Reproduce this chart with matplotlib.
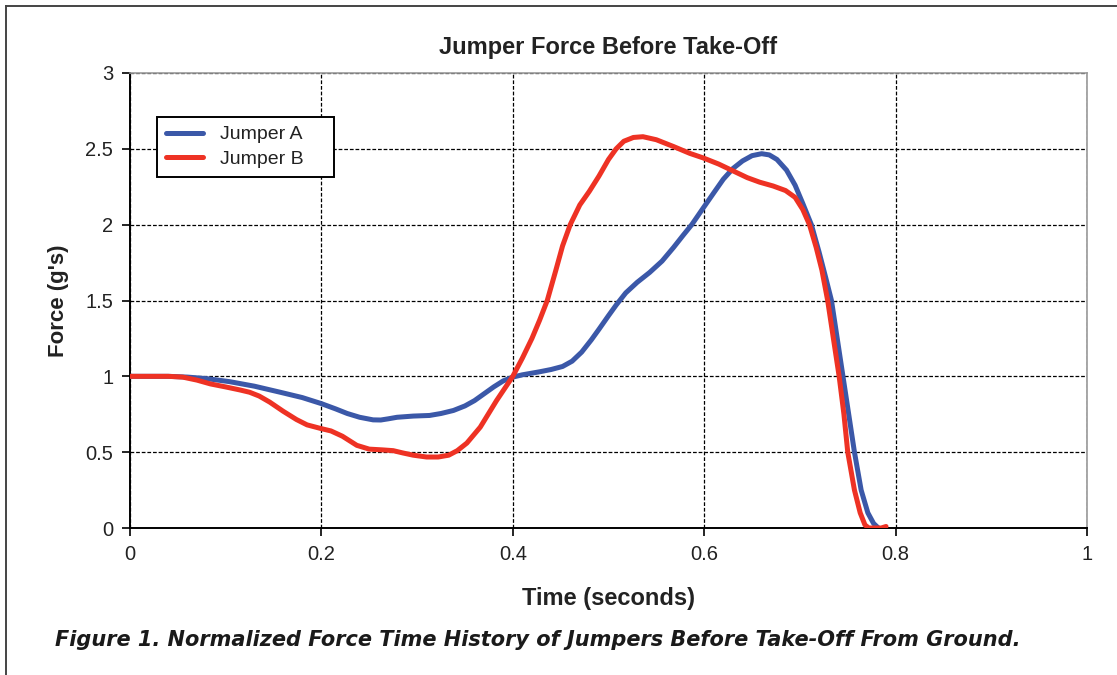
import matplotlib
matplotlib.use("Agg")
import matplotlib.pyplot as plt
from matplotlib.lines import Line2D

# ---- data ----
time_a = [0.00, 0.04, 0.06, 0.08, 0.104, 0.13, 0.157, 0.18, 0.20, 0.215, 0.227, 0.24,
          0.254, 0.262, 0.27, 0.279, 0.296, 0.313, 0.325, 0.338, 0.35, 0.36, 0.37, 0.38,
          0.39, 0.40, 0.41, 0.428, 0.44, 0.452, 0.462, 0.472, 0.482, 0.49, 0.50, 0.508,
          0.518, 0.53, 0.543, 0.556, 0.568, 0.578, 0.587, 0.599, 0.61, 0.62, 0.63, 0.64,
          0.65, 0.66, 0.668, 0.676, 0.686, 0.695, 0.703, 0.712, 0.72, 0.727, 0.733, 0.739,
          0.745, 0.751, 0.757, 0.764, 0.771, 0.777, 0.782]
force_a = [1.00, 1.00, 0.995, 0.985, 0.965, 0.935, 0.895, 0.86, 0.82, 0.785, 0.755, 0.73,
           0.713, 0.712, 0.72, 0.73, 0.738, 0.742, 0.755, 0.775, 0.805, 0.84, 0.885, 0.93,
           0.97, 0.995, 1.01, 1.03, 1.045, 1.065, 1.10, 1.16, 1.24, 1.31, 1.40, 1.47,
           1.55, 1.62, 1.685, 1.76, 1.85, 1.93, 2.00, 2.11, 2.21, 2.30, 2.37, 2.42,
           2.455, 2.468, 2.46, 2.43, 2.36, 2.26, 2.14, 2.00, 1.82, 1.65, 1.50, 1.25,
           1.00, 0.75, 0.50, 0.25, 0.10, 0.03, 0.00]

time_b = [0.00, 0.04, 0.055, 0.07, 0.084, 0.10, 0.115, 0.125, 0.135, 0.146, 0.16, 0.174,
          0.185, 0.20, 0.21, 0.222, 0.237, 0.25, 0.264, 0.275, 0.285, 0.296, 0.31, 0.322,
          0.333, 0.342, 0.352, 0.366, 0.383, 0.40, 0.41, 0.42, 0.428, 0.436, 0.445, 0.452,
          0.46, 0.47, 0.48, 0.49, 0.50, 0.508, 0.516, 0.526, 0.536, 0.55, 0.568, 0.585,
          0.599, 0.615, 0.63, 0.645, 0.658, 0.672, 0.685, 0.695, 0.703, 0.71, 0.717, 0.723,
          0.729, 0.735, 0.741, 0.746, 0.750, 0.757, 0.763, 0.768, 0.772, 0.785, 0.79]
force_b = [1.00, 1.00, 0.995, 0.975, 0.95, 0.93, 0.91, 0.895, 0.87, 0.83, 0.77, 0.715,
           0.68, 0.655, 0.64, 0.605, 0.545, 0.52, 0.515, 0.51, 0.495, 0.48, 0.468, 0.468,
           0.48, 0.51, 0.56, 0.665, 0.84, 1.00, 1.12, 1.25, 1.37, 1.50, 1.70, 1.86,
           2.00, 2.13, 2.22, 2.32, 2.43, 2.50, 2.55, 2.575, 2.58, 2.56, 2.515, 2.47,
           2.44, 2.40, 2.355, 2.31, 2.28, 2.255, 2.225, 2.18, 2.10, 2.00, 1.85, 1.70,
           1.50, 1.25, 1.00, 0.75, 0.50, 0.25, 0.10, 0.02, 0.00, 0.00, 0.01]

x_ticks = [0, 0.2, 0.4, 0.6, 0.8, 1]
x_tick_labels = ["0", "0.2", "0.4", "0.6", "0.8", "1"]
y_ticks = [0, 0.5, 1, 1.5, 2, 2.5, 3]
y_tick_labels = ["0", "0.5", "1", "1.5", "2", "2.5", "3"]

series_names = ["Jumper A", "Jumper B"]
series_colors = ["#3b58a8", "#ee3224"]

plt.rcParams['font.family'] = ['Liberation Sans', 'DejaVu Sans']

fig = plt.figure(figsize=(11.17, 6.75), dpi=100)
ax = fig.add_axes([130/1117, 147/675, 957/1117, 455/675])

ax.plot(time_a, force_a, color=series_colors[0], lw=3.6, solid_joinstyle='round',
        solid_capstyle='round', label=series_names[0], zorder=3)
ax.plot(time_b, force_b, color=series_colors[1], lw=3.6, solid_joinstyle='round',
        solid_capstyle='round', label=series_names[1], zorder=4)

ax.set_xlim(0, 1)
ax.set_ylim(0, 3)
ax.set_xticks(x_ticks)
ax.set_xticklabels(x_tick_labels)
ax.set_yticks(y_ticks)
ax.set_yticklabels(y_tick_labels)
ax.tick_params(axis='both', labelsize=14.5, color='black', length=6, width=1.2,
               direction='out', pad=6, labelcolor='#222222')
ax.grid(True, color='black', linestyle=(0, (3, 1.5)), linewidth=0.9, zorder=1)

for s in ['top', 'right']:
    ax.spines[s].set_color('#999999')
    ax.spines[s].set_linewidth(1.2)
for s in ['left', 'bottom']:
    ax.spines[s].set_color('black')
    ax.spines[s].set_linewidth(1.4)

ax.set_title("Jumper Force Before Take-Off", fontsize=17, fontweight='bold',
             color='#222222', pad=14)
ax.set_xlabel("Time (seconds)", fontsize=17, fontweight='bold', color='#222222', labelpad=17)
ax.set_ylabel("Force (g's)", fontsize=16, fontweight='bold', color='#222222', labelpad=12)

handles = [Line2D([0], [0], color=c, lw=3.6, solid_capstyle='round') for c in series_colors]
leg = ax.legend(handles, series_names, loc='upper left',
                bbox_to_anchor=(27/957, 0.5, 177/957, 1 - 44/455 - 0.5), mode='expand',
                fontsize=14, frameon=True, fancybox=False, framealpha=1, edgecolor='black',
                handlelength=1.9, handletextpad=0.9, borderpad=0.45, labelspacing=0.35,
                borderaxespad=0)
leg.get_frame().set_linewidth(1.4)
for t in leg.get_texts():
    t.set_color('#222222')

# caption
fig.text(55/1117, 1 - 640/675, "Figure 1. Normalized Force Time History of Jumpers Before Take-Off From Ground.",
         fontsize=15, fontweight='bold', style='italic', color='#1a1a1a', va='center', ha='left',
         family=['DejaVu Sans'])

# outer frame (left and top)
fig.add_artist(Line2D([6/1117, 6/1117], [0, 1 - 6/675], color='#444444', lw=1.4,
                      transform=fig.transFigure))
fig.add_artist(Line2D([6/1117, 1], [1 - 6/675, 1 - 6/675], color='#444444', lw=1.4,
                      transform=fig.transFigure))

fig.savefig("out.png", dpi=100)
